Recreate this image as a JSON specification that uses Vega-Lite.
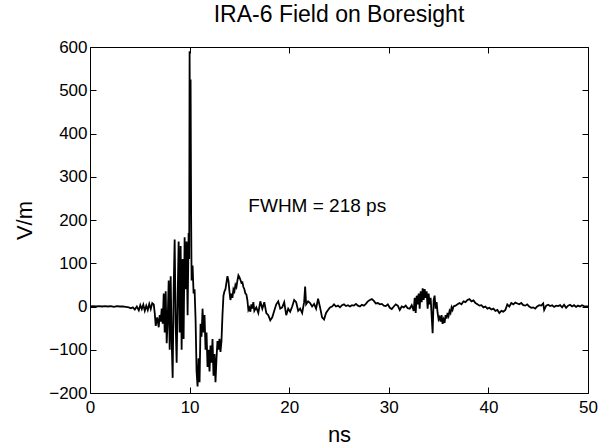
{
  "$schema": "https://vega.github.io/schema/vega-lite/v6.json",
  "width": 498,
  "height": 346,
  "autosize": "none",
  "padding": {"left": 90, "top": 47, "right": 19, "bottom": 53},
  "background": "white",
  "title": {"text": "IRA-6 Field on Boresight", "fontSize": 23, "font": "Liberation Sans", "fontWeight": "normal", "color": "black", "offset": 11},
  "config": {
    "view": {"stroke": "black", "strokeWidth": 1},
    "axis": {
      "domain": false,
      "grid": false,
      "ticks": true,
      "tickSize": -6,
      "tickColor": "black",
      "tickWidth": 1,
      "labelFlush": false,
      "labelFont": "Liberation Sans",
      "labelFontSize": 17,
      "labelColor": "black",
      "labelPadding": 8,
      "titleFont": "Liberation Sans",
      "titleFontSize": 22,
      "titleFontWeight": "normal",
      "titleColor": "black"
    }
  },
  "data": {"values": [
    {"t":0.0,"v":0},{"t":0.3,"v":1},{"t":0.6,"v":0},{"t":0.9,"v":1},{"t":1.2,"v":0},{"t":1.5,"v":1},{"t":1.8,"v":0},{"t":2.1,"v":1},{"t":2.4,"v":-1},{"t":2.7,"v":1},
    {"t":3.0,"v":0},{"t":3.3,"v":0},{"t":3.6,"v":-1},{"t":3.9,"v":-2},{"t":4.1,"v":-4},{"t":4.3,"v":-2},{"t":4.5,"v":-7},{"t":4.7,"v":0},{"t":4.9,"v":-9},{"t":5.05,"v":3},
    {"t":5.2,"v":-6},{"t":5.35,"v":4},{"t":5.5,"v":-10},{"t":5.65,"v":2},{"t":5.8,"v":-8},{"t":5.95,"v":6},{"t":6.1,"v":-6},{"t":6.25,"v":8},{"t":6.4,"v":5},{"t":6.5,"v":-15},
    {"t":6.6,"v":-45},{"t":6.75,"v":-25},{"t":6.9,"v":-48},{"t":7.0,"v":-20},{"t":7.1,"v":-35},{"t":7.2,"v":-5},{"t":7.3,"v":-40},{"t":7.4,"v":30},{"t":7.5,"v":-60},{"t":7.6,"v":35},
    {"t":7.7,"v":-85},{"t":7.8,"v":-30},{"t":7.9,"v":60},{"t":8.0,"v":-100},{"t":8.1,"v":70},{"t":8.2,"v":-80},{"t":8.3,"v":-165},{"t":8.4,"v":40},{"t":8.5,"v":155},{"t":8.6,"v":-40},
    {"t":8.7,"v":-130},{"t":8.8,"v":20},{"t":8.9,"v":150},{"t":9.0,"v":-60},{"t":9.1,"v":140},{"t":9.2,"v":-100},{"t":9.3,"v":110},{"t":9.4,"v":-75},{"t":9.5,"v":160},{"t":9.6,"v":40},
    {"t":9.7,"v":150},{"t":9.8,"v":-20},{"t":9.9,"v":170},{"t":9.96,"v":110},{"t":10.0,"v":590},{"t":10.05,"v":300},{"t":10.1,"v":525},{"t":10.15,"v":220},{"t":10.2,"v":60},{"t":10.3,"v":95},
    {"t":10.4,"v":30},{"t":10.5,"v":40},{"t":10.6,"v":-30},{"t":10.7,"v":-150},{"t":10.8,"v":-185},{"t":10.9,"v":-120},{"t":11.0,"v":-175},{"t":11.1,"v":-40},{"t":11.2,"v":-70},{"t":11.3,"v":-5},
    {"t":11.4,"v":-60},{"t":11.5,"v":-20},{"t":11.6,"v":-100},{"t":11.7,"v":-60},{"t":11.8,"v":-140},{"t":11.9,"v":-100},{"t":12.0,"v":-150},{"t":12.1,"v":-90},{"t":12.2,"v":-130},{"t":12.3,"v":-75},
    {"t":12.4,"v":-160},{"t":12.5,"v":-110},{"t":12.6,"v":-175},{"t":12.7,"v":-120},{"t":12.8,"v":-80},{"t":12.9,"v":-100},{"t":13.0,"v":-75},{"t":13.1,"v":-105},{"t":13.2,"v":-80},{"t":13.3,"v":-20},
    {"t":13.4,"v":25},{"t":13.5,"v":35},{"t":13.6,"v":40},{"t":13.7,"v":55},{"t":13.8,"v":70},{"t":13.9,"v":60},{"t":14.0,"v":35},{"t":14.1,"v":15},{"t":14.2,"v":30},{"t":14.3,"v":20},
    {"t":14.4,"v":40},{"t":14.5,"v":35},{"t":14.6,"v":50},{"t":14.7,"v":45},{"t":14.8,"v":60},{"t":14.9,"v":72},{"t":15.0,"v":68},{"t":15.1,"v":62},{"t":15.2,"v":55},{"t":15.3,"v":56},
    {"t":15.4,"v":45},{"t":15.5,"v":40},{"t":15.6,"v":30},{"t":15.7,"v":28},{"t":15.8,"v":15},{"t":15.9,"v":-8},{"t":16.0,"v":-3},{"t":16.1,"v":-12},{"t":16.2,"v":5},{"t":16.3,"v":-5},
    {"t":16.4,"v":10},{"t":16.5,"v":-10},{"t":16.7,"v":-2},{"t":16.9,"v":-15},{"t":17.1,"v":12},{"t":17.3,"v":-5},{"t":17.5,"v":10},{"t":17.7,"v":-15},{"t":17.9,"v":-20},{"t":18.1,"v":-32},
    {"t":18.3,"v":-25},{"t":18.5,"v":-10},{"t":18.7,"v":5},{"t":18.9,"v":12},{"t":19.1,"v":-5},{"t":19.3,"v":-2},{"t":19.5,"v":10},{"t":19.7,"v":-20},{"t":19.9,"v":-5},{"t":20.1,"v":-12},
    {"t":20.3,"v":0},{"t":20.5,"v":15},{"t":20.7,"v":10},{"t":20.9,"v":-10},{"t":21.1,"v":-5},{"t":21.3,"v":-15},{"t":21.5,"v":10},{"t":21.6,"v":46},{"t":21.7,"v":5},{"t":21.9,"v":12},
    {"t":22.1,"v":8},{"t":22.3,"v":0},{"t":22.5,"v":6},{"t":22.7,"v":-5},{"t":22.9,"v":18},{"t":23.1,"v":-2},{"t":23.3,"v":-25},{"t":23.5,"v":-30},{"t":23.7,"v":-15},{"t":23.9,"v":-8},
    {"t":24.1,"v":-2},{"t":24.3,"v":0},{"t":24.5,"v":5},{"t":24.7,"v":0},{"t":24.9,"v":2},{"t":25.1,"v":-2},{"t":25.3,"v":3},{"t":25.5,"v":5},{"t":25.7,"v":1},{"t":25.9,"v":3},
    {"t":26.1,"v":0},{"t":26.3,"v":3},{"t":26.5,"v":2},{"t":26.7,"v":6},{"t":26.9,"v":2},{"t":27.1,"v":0},{"t":27.3,"v":4},{"t":27.5,"v":2},{"t":27.7,"v":6},{"t":27.9,"v":12},
    {"t":28.1,"v":15},{"t":28.3,"v":17},{"t":28.5,"v":13},{"t":28.7,"v":7},{"t":28.9,"v":8},{"t":29.1,"v":5},{"t":29.3,"v":6},{"t":29.5,"v":2},{"t":29.7,"v":1},{"t":29.9,"v":5},
    {"t":30.1,"v":-3},{"t":30.3,"v":-6},{"t":30.5,"v":0},{"t":30.7,"v":5},{"t":30.9,"v":2},{"t":31.1,"v":-8},{"t":31.3,"v":0},{"t":31.5,"v":-2},{"t":31.7,"v":2},{"t":31.9,"v":-4},
    {"t":32.1,"v":-5},{"t":32.3,"v":3},{"t":32.5,"v":-10},{"t":32.6,"v":20},{"t":32.7,"v":-15},{"t":32.8,"v":25},{"t":32.9,"v":5},{"t":33.0,"v":30},{"t":33.1,"v":-5},{"t":33.2,"v":35},
    {"t":33.3,"v":10},{"t":33.4,"v":42},{"t":33.5,"v":15},{"t":33.6,"v":40},{"t":33.7,"v":20},{"t":33.8,"v":35},{"t":33.9,"v":-5},{"t":34.0,"v":30},{"t":34.1,"v":5},{"t":34.2,"v":20},
    {"t":34.3,"v":-20},{"t":34.4,"v":-62},{"t":34.5,"v":15},{"t":34.6,"v":25},{"t":34.7,"v":-5},{"t":34.8,"v":10},{"t":34.9,"v":-15},{"t":35.0,"v":-30},{"t":35.1,"v":-25},{"t":35.2,"v":-35},
    {"t":35.3,"v":-20},{"t":35.4,"v":-40},{"t":35.5,"v":-30},{"t":35.6,"v":-38},{"t":35.7,"v":-20},{"t":35.8,"v":-28},{"t":35.9,"v":-15},{"t":36.0,"v":-22},{"t":36.1,"v":-10},{"t":36.2,"v":-15},
    {"t":36.3,"v":-2},{"t":36.4,"v":-8},{"t":36.5,"v":0},{"t":36.7,"v":2},{"t":36.9,"v":5},{"t":37.1,"v":8},{"t":37.3,"v":5},{"t":37.5,"v":12},{"t":37.7,"v":10},{"t":37.9,"v":15},
    {"t":38.1,"v":17},{"t":38.3,"v":12},{"t":38.5,"v":14},{"t":38.7,"v":8},{"t":38.9,"v":5},{"t":39.1,"v":2},{"t":39.3,"v":3},{"t":39.5,"v":-2},{"t":39.7,"v":0},{"t":39.9,"v":-5},
    {"t":40.1,"v":-3},{"t":40.3,"v":-7},{"t":40.5,"v":-5},{"t":40.7,"v":-10},{"t":40.9,"v":-8},{"t":41.1,"v":-15},{"t":41.3,"v":-10},{"t":41.5,"v":-12},{"t":41.7,"v":-8},{"t":41.9,"v":5},
    {"t":42.1,"v":0},{"t":42.3,"v":8},{"t":42.5,"v":5},{"t":42.7,"v":9},{"t":42.9,"v":7},{"t":43.1,"v":5},{"t":43.3,"v":8},{"t":43.5,"v":3},{"t":43.7,"v":2},{"t":43.9,"v":5},
    {"t":44.1,"v":0},{"t":44.3,"v":-3},{"t":44.5,"v":-2},{"t":44.7,"v":-5},{"t":44.9,"v":0},{"t":45.1,"v":3},{"t":45.3,"v":2},{"t":45.5,"v":7},{"t":45.6,"v":-8},{"t":45.8,"v":2},
    {"t":46.0,"v":4},{"t":46.2,"v":1},{"t":46.4,"v":3},{"t":46.6,"v":-1},{"t":46.8,"v":2},{"t":47.0,"v":1},{"t":47.2,"v":3},{"t":47.4,"v":-2},{"t":47.6,"v":4},{"t":47.8,"v":-3},
    {"t":48.0,"v":2},{"t":48.2,"v":4},{"t":48.4,"v":0},{"t":48.6,"v":3},{"t":48.8,"v":-1},{"t":49.0,"v":2},{"t":49.2,"v":0},{"t":49.4,"v":3},{"t":49.6,"v":1},{"t":49.8,"v":0},{"t":50.0,"v":0}
  ]},
  "layer": [
    {
      "mark": {"type": "line", "color": "black", "strokeWidth": 1.8, "clip": true},
      "encoding": {
        "x": {"field": "t", "type": "quantitative", "scale": {"domain": [0, 50], "nice": false, "zero": false},
              "axis": {"orient": "bottom", "title": "ns", "values": [0, 10, 20, 30, 40, 50], "labelPadding": 12, "titlePadding": 9}},
        "y": {"field": "v", "type": "quantitative", "scale": {"domain": [-200, 600], "nice": false, "zero": false},
              "axis": {"orient": "left", "title": "V/m", "values": [-200, -100, 0, 100, 200, 300, 400, 500, 600], "labelPadding": 9, "titlePadding": 12}}
      }
    },
    {
      "data": {"values": [{"label": "FWHM = 218 ps"}]},
      "mark": {"type": "text", "align": "left", "baseline": "middle", "fontSize": 19, "font": "Liberation Sans", "color": "black"},
      "encoding": {
        "text": {"field": "label"},
        "x": {"datum": 15.9, "type": "quantitative",
              "axis": {"orient": "top", "title": null, "labels": false, "values": [0, 10, 20, 30, 40, 50]}},
        "y": {"datum": 232, "type": "quantitative",
              "axis": {"orient": "right", "title": null, "labels": false, "values": [-200, -100, 0, 100, 200, 300, 400, 500, 600]}}
      }
    }
  ],
  "resolve": {"axis": {"x": "independent", "y": "independent"}}
}
